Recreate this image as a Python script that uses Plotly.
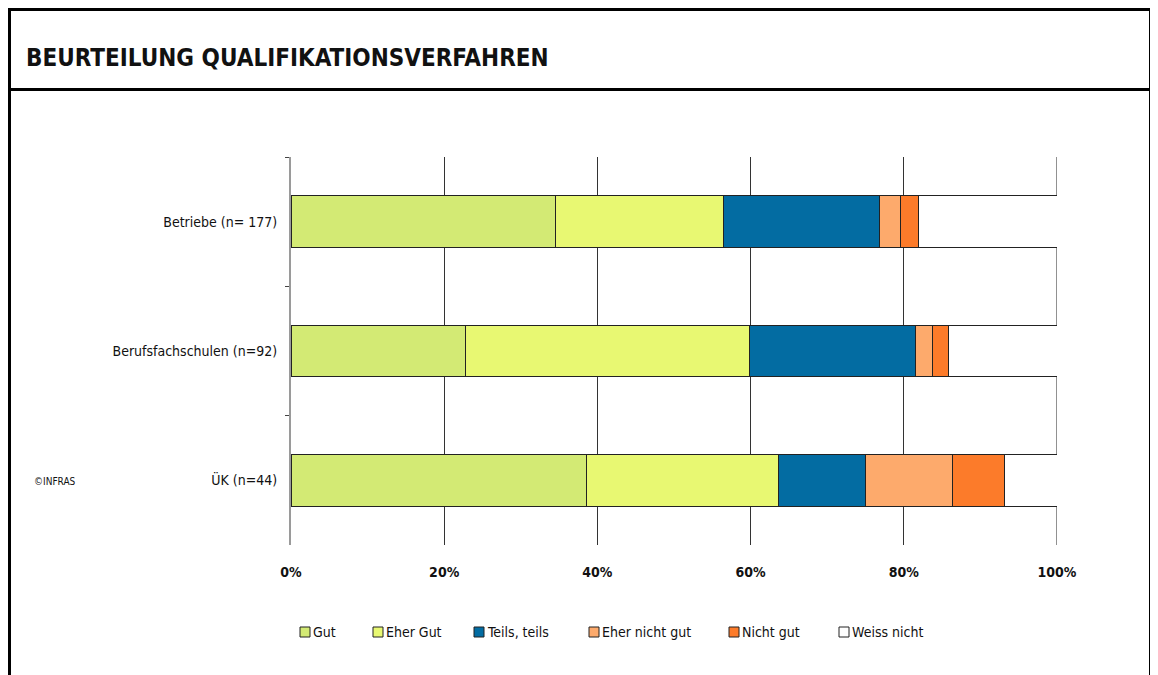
import plotly.graph_objects as go

categories = ["Betriebe (n= 177)", "Berufsfachschulen (n=92)", "ÜK (n=44)"]
series_names = ["Gut", "Eher Gut", "Teils, teils", "Eher nicht gut", "Nicht gut", "Weiss nicht"]
gut = [34.5, 22.8, 38.6]
eher_gut = [22.0, 37.0, 25.0]
teils = [20.3, 21.7, 11.4]
eher_nicht = [2.8, 2.2, 11.4]
nicht_gut = [2.3, 2.2, 6.8]
weiss_nicht = [18.1, 14.1, 6.8]
colors = ["#d3ea74", "#e8f872", "#036ca2", "#fdaa6c", "#fc7b2a", "#ffffff"]
tick_vals = [0, 20, 40, 60, 80, 100]
tick_text = ["0%", "20%", "40%", "60%", "80%", "100%"]

FONT = "DejaVu Sans Condensed, Liberation Sans Narrow, Arial Narrow, sans-serif"

OFF = 8  # page body margin
W, H = 1158, 675
# target screen pixels of the plot area
SL, SR, ST, SB = 291, 1057, 157, 545
L, R, T, B = SL - OFF, SR - OFF, ST - OFF, SB - OFF

def px(x):
    return (x - SL) / (SR - SL)

def py(y):
    return (SB - y) / (SB - ST)

fig = go.Figure()
for name, vals, col in zip(series_names, [gut, eher_gut, teils, eher_nicht, nicht_gut, weiss_nicht], colors):
    fig.add_trace(go.Bar(
        y=categories, x=vals, name=name, orientation="h",
        marker=dict(color=col, line=dict(color="#222222", width=1)),
        width=0.4, hoverinfo="x+y+name", showlegend=False,
    ))

fig.update_layout(
    barmode="stack",
    width=W, height=H,
    margin=dict(l=L, r=W - R, t=T, b=H - B, pad=0),
    paper_bgcolor="white", plot_bgcolor="white",
    font=dict(family=FONT, size=14, color="#111111"),
    showlegend=False,
    xaxis=dict(range=[0, 100], tickvals=tick_vals, ticktext=tick_text,
               showgrid=True, gridcolor="#333333", gridwidth=1,
               zeroline=False, showline=False, ticks="", ticklabelstandoff=17,
               tickfont=dict(size=14, family=FONT, color="#111111", weight="bold")),
    yaxis=dict(autorange="reversed", type="category",
               showgrid=False, zeroline=False,
               showline=True, linecolor="#9a9a9a", linewidth=2,
               ticks="outside", tickson="boundaries", ticklen=4, tickcolor="#444444",
               tickfont=dict(size=14, family=FONT, color="#111111"), ticklabelstandoff=9),
)

shapes = [
    dict(type="line", xref="x", yref="paper", x0=100, x1=100, y0=0, y1=1, line=dict(color="#222222", width=1), layer="below"),
    dict(type="line", xref="paper", yref="paper", x0=px(9.5), x1=px(9.5), y0=py(8), y1=py(700), line=dict(color="black", width=3)),
    dict(type="line", xref="paper", yref="paper", x0=px(1150.5), x1=px(1150.5), y0=py(8), y1=py(700), line=dict(color="black", width=3)),
    dict(type="line", xref="paper", yref="paper", x0=px(8), x1=px(1152), y0=py(9.5), y1=py(9.5), line=dict(color="black", width=3)),
    dict(type="line", xref="paper", yref="paper", x0=px(8), x1=px(1152), y0=py(89.5), y1=py(89.5), line=dict(color="black", width=3)),
]

# manual legend (symbol squares + labels)
legend_x = [300, 373, 474, 589, 729, 839]
legend_y = 632
for name, col, lx in zip(series_names, colors, legend_x):
    shapes.append(dict(type="rect", xref="paper", yref="paper",
                       x0=px(lx), x1=px(lx + 10), y0=py(legend_y + 5), y1=py(legend_y - 5),
                       fillcolor=col, line=dict(color="#222222", width=1)))
    fig.add_annotation(xref="paper", yref="paper", x=px(lx + 11), y=py(legend_y), xanchor="left", yanchor="middle",
                       text=name, showarrow=False, font=dict(size=14, family=FONT, color="#111111"))

fig.update_layout(shapes=shapes)

fig.add_annotation(xref="paper", yref="paper", x=px(24), y=py(58), xanchor="left", yanchor="middle",
                   text="<b>BEURTEILUNG QUALIFIKATIONSVERFAHREN</b>", showarrow=False,
                   font=dict(size=24, family=FONT, color="#111111"))
fig.add_annotation(xref="paper", yref="paper", x=px(32), y=py(481), xanchor="left", yanchor="middle",
                   text="©INFRAS", showarrow=False, font=dict(size=10, family=FONT, color="#111111"))

fig.write_html("out.html")
